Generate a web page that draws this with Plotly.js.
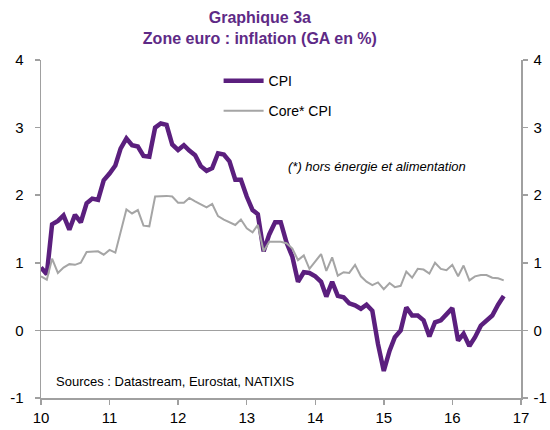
<!DOCTYPE html>
<html>
<head>
<meta charset="utf-8">
<script src="https://cdn.plot.ly/plotly-3.0.1.min.js"></script>
<style>html,body{margin:0;padding:0;background:#fff;}#chart{width:550px;height:430px;}</style>
</head>
<body>
<div id="chart"></div>
<script>
// Monthly, Jan 2010 .. Oct 2016 (year-on-year %)
const startYear = 2010;
const cpi = [
  0.93, 0.83, 1.57, 1.62, 1.70, 1.49, 1.71, 1.60, 1.88, 1.95, 1.93, 2.22,
  2.32, 2.44, 2.69, 2.84, 2.74, 2.72, 2.58, 2.57, 3.00, 3.06, 3.04, 2.75,
  2.67, 2.74, 2.66, 2.59, 2.43, 2.36, 2.40, 2.62, 2.60, 2.50, 2.23, 2.23,
  1.98, 1.78, 1.72, 1.17, 1.42, 1.60, 1.60, 1.30, 1.09, 0.72, 0.86, 0.85,
  0.80, 0.72, 0.50, 0.72, 0.51, 0.49, 0.40, 0.37, 0.32, 0.38, 0.29, -0.20,
  -0.60, -0.30, -0.10, 0.00, 0.34, 0.22, 0.22, 0.15, -0.09, 0.12, 0.15, 0.23,
  0.33, -0.15, -0.05, -0.23, -0.10, 0.07, 0.15, 0.22, 0.38, 0.51
];
const core = [
  0.80, 0.75, 1.06, 0.85, 0.93, 0.98, 0.97, 1.00, 1.16, 1.16, 1.17, 1.12,
  1.19, 1.15, 1.44, 1.79, 1.73, 1.78, 1.55, 1.54, 1.98, 1.99, 1.99, 1.98,
  1.89, 1.89, 1.96, 1.91, 1.86, 1.82, 1.87, 1.69, 1.64, 1.60, 1.56, 1.64,
  1.51, 1.45, 1.56, 1.17, 1.31, 1.31, 1.31, 1.29, 1.21, 1.04, 1.11, 0.91,
  1.02, 1.13, 0.88, 1.08, 0.81, 0.86, 0.85, 0.97, 0.80, 0.72, 0.67, 0.71,
  0.61, 0.70, 0.64, 0.66, 0.87, 0.78, 0.91, 0.90, 0.84, 1.00, 0.91, 0.89,
  0.97, 0.80, 0.96, 0.74, 0.80, 0.82, 0.82, 0.78, 0.77, 0.74
];
const yTicks = [-1, 0, 1, 2, 3, 4];
const seriesNames = ["CPI", "Core* CPI"];
const titleLines = ["Graphique 3a", "Zone euro : inflation (GA en %)"];
const noteText = "(*) hors énergie et alimentation";
const sourceText = "Sources : Datastream, Eurostat, NATIXIS";

function monthDates(n) {
  const out = [];
  for (let i = 0; i < n; i++) {
    const y = startYear + Math.floor(i / 12);
    const m = (i % 12) + 1;
    out.push(y + "-" + (m < 10 ? "0" + m : m) + "-01");
  }
  return out;
}
const dates = monthDates(cpi.length);

const purple = "#5B1F7E";
const grey = "#A5A5A5";
const axisGrey = "#A0A0A0";
const font = "Liberation Sans, Arial, sans-serif";

const traces = [
  {x: dates, y: cpi, name: seriesNames[0], type: "scatter", mode: "lines",
   line: {color: purple, width: 4.5}, legendgroup: "a"},
  {x: dates, y: core, name: seriesNames[1], type: "scatter", mode: "lines",
   line: {color: grey, width: 2}, legendgroup: "b"},
  {x: dates, y: core, yaxis: "y2", type: "scatter", mode: "lines",
   line: {width: 0}, hoverinfo: "skip", showlegend: false, opacity: 0}
];

const yCommon = {
  range: [-1, 4], tickvals: yTicks, ticktext: yTicks.map(String),
  showgrid: false, showline: true, linecolor: axisGrey, linewidth: 1.5,
  ticks: "outside", ticklen: 5, tickcolor: axisGrey, tickwidth: 1.5,
  tickfont: {family: font, size: 15, color: "#000"}, zeroline: false, fixedrange: true
};

const layout = {
  width: 550, height: 430,
  margin: {l: 41, r: 29, t: 60, b: 32},
  paper_bgcolor: "#fff", plot_bgcolor: "#fff",
  title: {
    text: "<b>" + titleLines[0] + "</b><br><b>" + titleLines[1] + "</b>",
    font: {family: font, size: 16, color: "#5E2A86"},
    x: 0.456, xanchor: "center", xref: "paper", y: 0.946, yanchor: "middle", yref: "container"
  },
  xaxis: {
    type: "date", range: ["2010-01-01", "2017-01-01"],
    tickvals: ["2010-01-01","2011-01-01","2012-01-01","2013-01-01","2014-01-01","2015-01-01","2016-01-01","2017-01-01"],
    tickformat: "%y",
    showgrid: false, showline: true, linecolor: axisGrey, linewidth: 1.5,
    ticks: "outside", ticklen: 5, tickcolor: axisGrey, tickwidth: 1.5,
    tickfont: {family: font, size: 15, color: "#000"}, zeroline: false
  },
  yaxis: Object.assign({}, yCommon, {side: "left", zeroline: true, zerolinecolor: axisGrey, zerolinewidth: 1.5, ticklabelstandoff: 8}),
  yaxis2: Object.assign({}, yCommon, {side: "right", overlaying: "y", anchor: "x", ticklabelstandoff: 3}),
  showlegend: true,
  legend: {
    x: 0.37, y: 0.985, xanchor: "left", yanchor: "top",
    font: {family: font, size: 14, color: "#000"},
    bgcolor: "rgba(0,0,0,0)", traceorder: "grouped", tracegroupgap: 9,
    itemwidth: 40
  },
  annotations: [
    {text: "<i>" + noteText + "</i>", xref: "paper", yref: "paper", x: 0.51, y: 0.684,
     xanchor: "left", yanchor: "middle", showarrow: false,
     font: {family: font, size: 13, color: "#000"}},
    {text: sourceText, xref: "paper", yref: "paper", x: 0.027, y: 0.05,
     xanchor: "left", yanchor: "middle", showarrow: false,
     font: {family: font, size: 13, color: "#000"}}
  ]
};

Plotly.newPlot("chart", traces, layout, {displayModeBar: false, staticPlot: true});
</script>
</body>
</html>
